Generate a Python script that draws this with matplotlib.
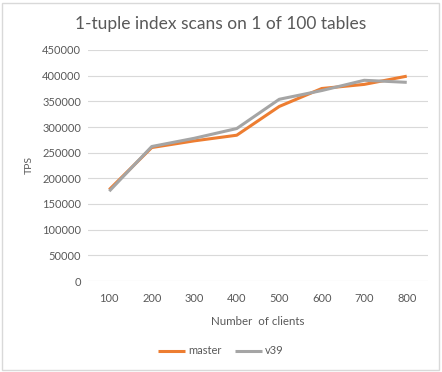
import numpy as np
import matplotlib.pyplot as plt
from matplotlib.patches import Rectangle

plt.rcParams['font.family'] = ['Lato', 'DejaVu Sans']

clients = ["100", "200", "300", "400", "500", "600", "700", "800"]
master = [178000, 260000, 273000, 284000, 340000, 375000, 383000, 399000]
v39 = [175000, 262000, 278000, 297000, 354000, 371000, 391000, 387000]

TXT = "#595959"
GRID = "#d9d9d9"

fig = plt.figure(figsize=(4.42, 3.72), dpi=100)
ax = fig.add_axes([88 / 442, 91 / 372, 340 / 442, 231 / 372])

x = np.arange(len(clients))
ax.plot(x, master, color="#ED7D31", lw=2.2, label="master", solid_capstyle="butt")
ax.plot(x, v39, color="#A5A5A5", lw=2.2, label="v39", solid_capstyle="butt")

ax.set_xlim(-0.5, len(clients) - 0.5)
ax.set_ylim(0, 450000)
ax.set_yticks(np.arange(0, 450001, 50000))
ax.set_xticks(x)
ax.set_xticklabels(clients)
ax.yaxis.grid(True, color=GRID, lw=0.8)
ax.set_axisbelow(True)
for s in ax.spines.values():
    s.set_visible(False)
ax.tick_params(length=0, labelsize=8, colors=TXT, pad=5)
ax.tick_params(axis="x", pad=9)

ax.set_xlabel("Number  of clients", fontsize=8.3, color=TXT, labelpad=8)
ax.set_ylabel("TPS", fontsize=7.5, color=TXT, labelpad=6)
fig.text(0.5, 1 - 24 / 372, "1-tuple index scans on 1 of 100 tables",
         ha="center", va="center", fontsize=12.5, color=TXT)

leg = fig.legend(loc="center", bbox_to_anchor=(0.5, 1 - 351 / 372), ncol=2,
                 frameon=False, fontsize=8, handlelength=2.4,
                 columnspacing=1.2, handletextpad=0.3)
for t in leg.get_texts():
    t.set_color(TXT)

fig.patches.append(Rectangle((2 / 442, 2 / 372), 437 / 442, 367 / 372,
                             transform=fig.transFigure, fill=False,
                             edgecolor=GRID, lw=1))

fig.savefig("out.png", dpi=100)
